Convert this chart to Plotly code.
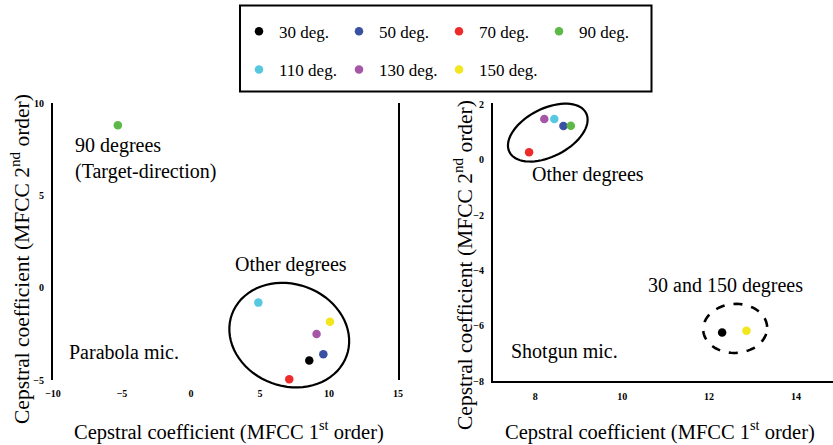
import numpy as np
import plotly.graph_objects as go

W, H = 833, 445

# ---------------- data ----------------
labels = ["30 deg.", "50 deg.", "70 deg.", "90 deg.", "110 deg.", "130 deg.", "150 deg."]
colors = ["#000000", "#3a50a3", "#ee2b2b", "#5cb947", "#57c8e0", "#a656a6", "#f2e61e"]

# Parabola mic. (left panel)
parabola_x = [8.57, 9.59, 7.12, -5.3, 4.88, 9.1, 10.07]
parabola_y = [-3.95, -3.61, -4.96, 8.8, -0.81, -2.51, -1.84]

# Shotgun mic. (right panel)
shotgun_x = [12.30, 8.65, 7.86, 8.82, 8.44, 8.21, 12.86]
shotgun_y = [-6.25, 1.22, 0.27, 1.23, 1.47, 1.47, -6.18]

left_xticks = [-10, -5, 0, 5, 10, 15]
left_yticks = [-5, 0, 5, 10]
right_xticks = [8, 10, 12, 14]
right_yticks = [-8, -6, -4, -2, 0, 2]

# ---------------- layout geometry ----------------
L_PX = (53, 398, 103, 380)   # left, right, top, bottom pixels of panel 1
R_PX = (493, 833, 103, 381)  # panel 2
L_XR, L_YR = [-10, 15], [-5, 10]
R_XR, R_YR = [7.03, 14.85], [-8, 2.05]

def dom_x(px):
    return [px[0] / W, px[1] / W]

def dom_y(px):
    return [(H - px[3]) / H, (H - px[2]) / H]

serif = "Liberation Serif, Times New Roman, serif"
tickfont = dict(family=serif, size=10, color="black", weight="bold")

fig = go.Figure()

for i, (lab, col) in enumerate(zip(labels, colors)):
    leg = "legend" if i < 4 else "legend2"
    fig.add_trace(go.Scatter(x=[parabola_x[i]], y=[parabola_y[i]], mode="markers",
                             marker=dict(color=col, size=8.5, symbol="circle"),
                             name=lab, legendgroup=lab, legend=leg,
                             xaxis="x", yaxis="y", cliponaxis=False))
    fig.add_trace(go.Scatter(x=[shotgun_x[i]], y=[shotgun_y[i]], mode="markers",
                             marker=dict(color=col, size=8.5, symbol="circle"),
                             name=lab, legendgroup=lab, showlegend=False,
                             xaxis="x2", yaxis="y2", cliponaxis=False))

# ---------------- ellipses (drawn in axis-domain units, so not clipped) ----------------
def ellipse_path(cx, cy, a_px, b_px, ang_deg, xr, yr, px):
    wpx = px[1] - px[0]
    hpx = px[3] - px[2]
    th = np.deg2rad(ang_deg)
    t = np.linspace(0, 2 * np.pi, 73)
    dx = a_px * np.cos(t) * np.cos(th) - b_px * np.sin(t) * np.sin(th)
    dy = a_px * np.cos(t) * np.sin(th) + b_px * np.sin(t) * np.cos(th)
    ux = (cx - xr[0]) / (xr[1] - xr[0]) + dx / wpx
    uy = (cy - yr[0]) / (yr[1] - yr[0]) + dy / hpx
    pts = [f"{x:.5f},{y:.5f}" for x, y in zip(ux, uy)]
    return "M" + " L".join(pts) + " Z"

shapes = []
shapes.append(dict(type="path", xref="x domain", yref="y domain",
                   path=ellipse_path(7.12, -2.57, 61, 51, -20, L_XR, L_YR, L_PX),
                   line=dict(color="black", width=2.2)))
shapes.append(dict(type="path", xref="x2 domain", yref="y2 domain",
                   path=ellipse_path(8.29, 0.98, 43, 24, 27, R_XR, R_YR, R_PX),
                   line=dict(color="black", width=2.2)))
shapes.append(dict(type="path", xref="x2 domain", yref="y2 domain",
                   path=ellipse_path(12.6, -6.1, 32, 24.5, 3, R_XR, R_YR, R_PX),
                   line=dict(color="black", width=2.6, dash="dash")))
# legend frame
shapes.append(dict(type="rect", xref="paper", yref="paper",
                   x0=240 / W, x1=651.5 / W, y0=(H - 91.5) / H, y1=(H - 5.5) / H,
                   line=dict(color="black", width=2), fillcolor="rgba(0,0,0,0)"))

ann_font = dict(family=serif, size=20, color="black")
annotations = [
    dict(text="90 degrees<br>(Target-direction)", x=-8.57, y=6.97, xref="x", yref="y",
         xanchor="left", yanchor="middle", align="left", showarrow=False, font=ann_font),
    dict(text="Other degrees", x=3.02, y=1.23, xref="x", yref="y",
         xanchor="left", yanchor="middle", showarrow=False, font=ann_font),
    dict(text="Parabola mic.", x=-9.01, y=-3.47, xref="x", yref="y",
         xanchor="left", yanchor="middle", showarrow=False, font=ann_font),
    dict(text="Other degrees", x=7.88, y=-0.55, xref="x2", yref="y2",
         xanchor="left", yanchor="middle", showarrow=False, font=ann_font),
    dict(text="30 and 150 degrees", x=10.55, y=-4.55, xref="x2", yref="y2",
         xanchor="left", yanchor="middle", showarrow=False, font=ann_font),
    dict(text="Shotgun mic.", x=7.40, y=-6.94, xref="x2", yref="y2",
         xanchor="left", yanchor="middle", showarrow=False, font=ann_font),
    # axis titles
    dict(text="Cepstral coefficient (MFCC 1<sup>st</sup> order)", x=228.5 / W, y=(H - 430) / H,
         xref="paper", yref="paper", xanchor="center", yanchor="middle", showarrow=False,
         font=dict(family=serif, size=20.5, color="black")),
    dict(text="Cepstral coefficient (MFCC 1<sup>st</sup> order)", x=660 / W, y=(H - 430) / H,
         xref="paper", yref="paper", xanchor="center", yanchor="middle", showarrow=False,
         font=dict(family=serif, size=20.5, color="black")),
    dict(text="Cepstral coefficient (MFCC 2<sup>nd</sup> order)", x=20 / W, y=(H - 259) / H,
         xref="paper", yref="paper", xanchor="center", yanchor="middle", showarrow=False,
         textangle=-90, font=dict(family=serif, size=21.5, color="black")),
    dict(text="Cepstral coefficient (MFCC 2<sup>nd</sup> order)", x=463 / W, y=(H - 265) / H,
         xref="paper", yref="paper", xanchor="center", yanchor="middle", showarrow=False,
         textangle=-90, font=dict(family=serif, size=21.5, color="black")),
]

common_axis = dict(showgrid=False, zeroline=False, ticks="", tickfont=tickfont,
                   linecolor="black", linewidth=2, automargin=False)

legend_common = dict(orientation="h", xanchor="left", yanchor="middle",
                     font=dict(family=serif, size=17, color="black"),
                     bgcolor="rgba(0,0,0,0)", borderwidth=0,
                     entrywidth=55, entrywidthmode="pixels", itemclick=False)

fig.update_layout(
    width=W, height=H, margin=dict(l=0, r=0, t=0, b=0, autoexpand=False),
    paper_bgcolor="white", plot_bgcolor="white",
    showlegend=True,
    xaxis=dict(domain=dom_x(L_PX), range=L_XR, tickvals=left_xticks, showline=False,
               anchor="y", ticklabelstandoff=6, **common_axis),
    yaxis=dict(domain=dom_y(L_PX), range=L_YR, tickvals=left_yticks, showline=True,
               mirror=True, anchor="x", ticklabelstandoff=5, **common_axis),
    xaxis2=dict(domain=dom_x(R_PX), range=R_XR, tickvals=right_xticks, showline=True,
                anchor="y2", ticklabelstandoff=5, **common_axis),
    yaxis2=dict(domain=dom_y(R_PX), range=R_YR, tickvals=right_yticks, showline=True,
                anchor="x2", ticklabelstandoff=5, **common_axis),
    legend=dict(x=239 / W, y=(H - 31.7) / H, **legend_common),
    legend2=dict(x=239 / W, y=(H - 70) / H, **legend_common),
    shapes=shapes,
    annotations=annotations,
)

fig.write_html("out.html")
